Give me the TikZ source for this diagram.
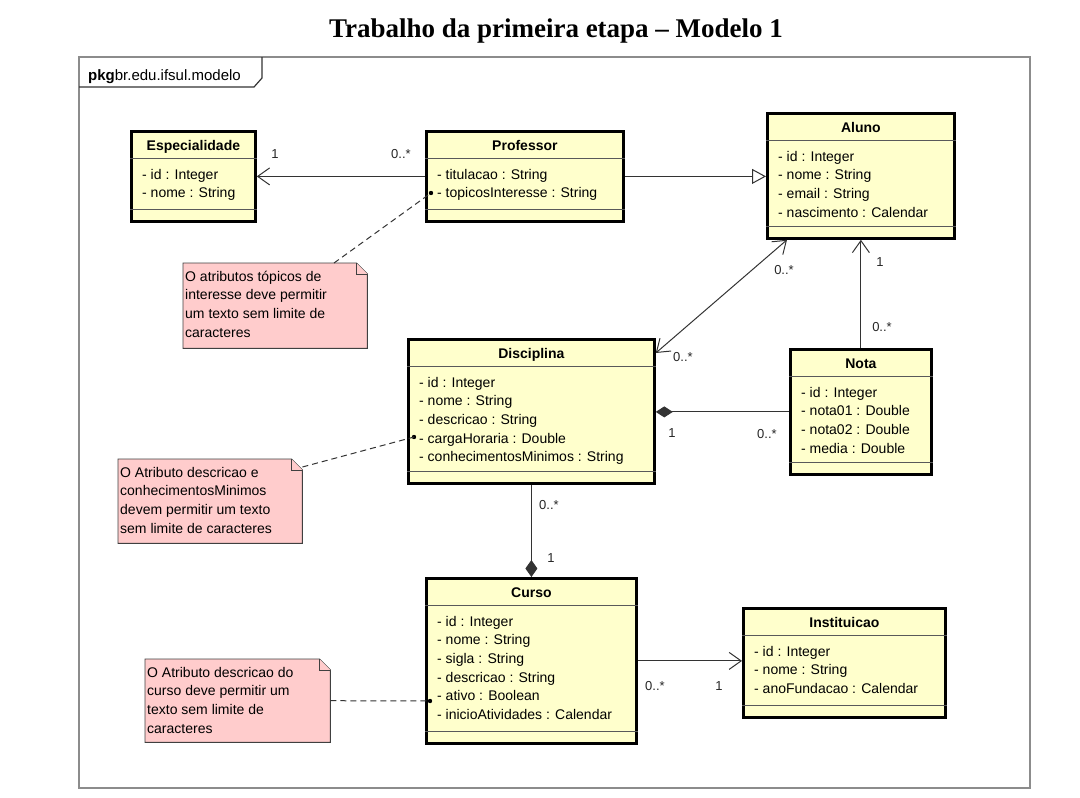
\documentclass[tikz,border=0pt]{standalone}
\usepackage{fontspec}
\setmainfont{Liberation Sans}
\newfontfamily\titlefont{Liberation Serif}
\usetikzlibrary{arrows.meta,calc}

\definecolor{classfill}{RGB}{255,255,204}
\definecolor{notefill}{RGB}{255,204,204}
\definecolor{framegray}{RGB}{140,140,140}

% class box: name, x, y, width, height, title, attributes
\newcommand{\umlclass}[7]{%
  \node[classbox, minimum width=#4, minimum height=#5] (#1) at (#2,#3) {};
  \node[classtitle] (#1-title) at ([yshift=-20]#1.north) {#6};
  \draw[sepline] ([yshift=-28]#1.north west) -- ([yshift=-28]#1.north east);
  \draw[sepline] ([yshift=13]#1.south west) -- ([yshift=13]#1.south east);
  \foreach \a [count=\i] in {#7}
    \node[classattr] (#1-attr\i) at ([xshift=12,yshift={-49-(\i-1)*18.7}]#1.north west) {\a};
}
% note: name, x, y, width, height, text lines
\newcommand{\umlnote}[6]{%
  \node[notearea, minimum width=#4, minimum height=#5] (#1) at (#2,#3) {};
  \filldraw[notebox] (#1.south west) -- (#1.north west) -- ([xshift=-11]#1.north east)
    -- ([yshift=-11]#1.north east) -- (#1.south east) -- cycle;
  \draw[notebox] ([xshift=-11]#1.north east) -- ([xshift=-11,yshift=-11]#1.north east) -- ([yshift=-11]#1.north east);
  \foreach \a [count=\i] in {#6}
    \node[notetext] (#1-text\i) at ([xshift=2,yshift={-18-(\i-1)*18.8}]#1.north west) {\a};
}

\begin{document}
\begin{tikzpicture}[x=1pt, y=-1pt,
    classbox/.style={draw, line width=2.8pt, fill=classfill, anchor=north west, inner sep=0},
    classtitle/.style={anchor=base, font=\fontsize{14}{16}\selectfont\bfseries, inner sep=0},
    classattr/.style={anchor=base west, inner sep=0, font=\fontsize{14}{16}\selectfont},
    sepline/.style={line width=0.9pt, black!65},
    notearea/.style={anchor=north west, inner sep=0},
    notebox/.style={fill=notefill, draw=black!75, line width=0.9pt},
    notetext/.style={anchor=base west, inner sep=0, font=\fontsize{14}{16}\selectfont},
    assoc/.style={line width=1pt, black!80},
    barb/.tip={Straight Barb[length=12pt,width=17pt]},
    mult/.style={font=\fontsize{13}{15}\selectfont, inner sep=0, black!85}]
  \useasboundingbox (0,0) rectangle (1080,798);

  % title and package frame
  \node[font=\titlefont\fontsize{27}{30}\selectfont\bfseries] (title) at (556,31) {Trabalho da primeira etapa – Modelo 1};
  \draw[framegray, line width=1.2pt] (79,57) rectangle (1030,788);
  \draw[black!80, line width=1.2pt] (79,87) -- (254,87) -- (262,78) -- (262,57);
  \node[anchor=base west, inner sep=0, font=\fontsize{15}{17}\selectfont] (pkg) at (88,80) {\textbf{pkg}br.edu.ifsul.modelo};

  % classes
  \umlclass{esp}{130}{130}{124}{90}{Especialidade}{- id : Integer, - nome : String}
  \umlclass{prof}{425}{130}{197}{90}{Professor}{- titulacao : String, - topicosInteresse : String}
  \umlclass{alu}{766}{112}{187}{125}{Aluno}{- id : Integer, - nome : String, - email : String, - nascimento : Calendar}
  \umlclass{disc}{407}{338}{246}{144}{Disciplina}{- id : Integer, - nome : String, - descricao : String, - cargaHoraria : Double, - conhecimentosMinimos : String}
  \umlclass{nota}{789}{348}{141}{125}{Nota}{- id : Integer, - nota01 : Double, - nota02 : Double, - media : Double}
  \umlclass{curso}{425}{577}{210}{165}{Curso}{- id : Integer, - nome : String, - sigla : String, - descricao : String, - ativo : Boolean, - inicioAtividades : Calendar}
  \umlclass{inst}{742}{607}{202}{109}{Instituicao}{- id : Integer, - nome : String, - anoFundacao : Calendar}

  % notes
  \umlnote{note1}{183}{263}{184}{85}{O atributos tópicos de, interesse deve permitir, um texto sem limite de, caracteres}
  \umlnote{note2}{118}{459}{184}{84}{O Atributo descricao e, conhecimentosMinimos, devem permitir um texto, sem limite de caracteres}
  \umlnote{note3}{145}{659}{185}{83}{O Atributo descricao do, curso deve permitir um, texto sem limite de, caracteres}

  \coordinate (dotprof) at (431,193);
  \coordinate (dotdisc) at (414,437);
  \coordinate (dotcurso) at (430,701);
  \foreach \d in {dotprof,dotdisc,dotcurso}
    \fill (\d) circle (2.2);
  \draw[assoc, dash pattern=on 6pt off 4pt] ([xshift=151]note1.north west) -- (dotprof);
  \draw[assoc, dash pattern=on 6pt off 4pt] ([yshift=-8]note2.north east) -- (dotdisc);
  \draw[assoc, dash pattern=on 6pt off 4pt] (note3.east) -- (dotcurso);

  % associations
  \draw[assoc, -barb] (prof.west) -- (esp.east);
  \draw[assoc, -{Triangle[open,length=14pt,width=15pt,fill=white]}] (prof.east) -- (prof.east -| alu.west);
  \draw[assoc, barb-barb] ([yshift=-15]disc.north east) -- ([xshift=21]alu.south west);
  \draw[assoc, -barb] (nota.north) -- (nota.north |- alu.south);
  \draw[assoc, {Diamond[length=17pt,width=11pt]}-] (nota.west -| disc.east) -- (nota.west);
  \draw[assoc, -{Diamond[length=17pt,width=12pt]}] (disc.south) -- (curso.north);
  \draw[assoc, -barb] (curso.east) -- (curso.east -| inst.west);

  % multiplicities
  \node[mult] (m-esp) at (275,154) {1};
  \node[mult] (m-prof) at (401,154) {0..*};
  \node[mult] (m-alu1) at (784,270) {0..*};
  \node[mult] (m-disc1) at (683,357) {0..*};
  \node[mult] (m-alu2) at (880,262) {1};
  \node[mult] (m-nota1) at (882,327) {0..*};
  \node[mult] (m-disc2) at (672,433) {1};
  \node[mult] (m-nota2) at (767,434) {0..*};
  \node[mult] (m-disc3) at (549,505) {0..*};
  \node[mult] (m-curso1) at (551,558) {1};
  \node[mult] (m-curso2) at (655,686) {0..*};
  \node[mult] (m-inst) at (719,686) {1};
\end{tikzpicture}
\end{document}
